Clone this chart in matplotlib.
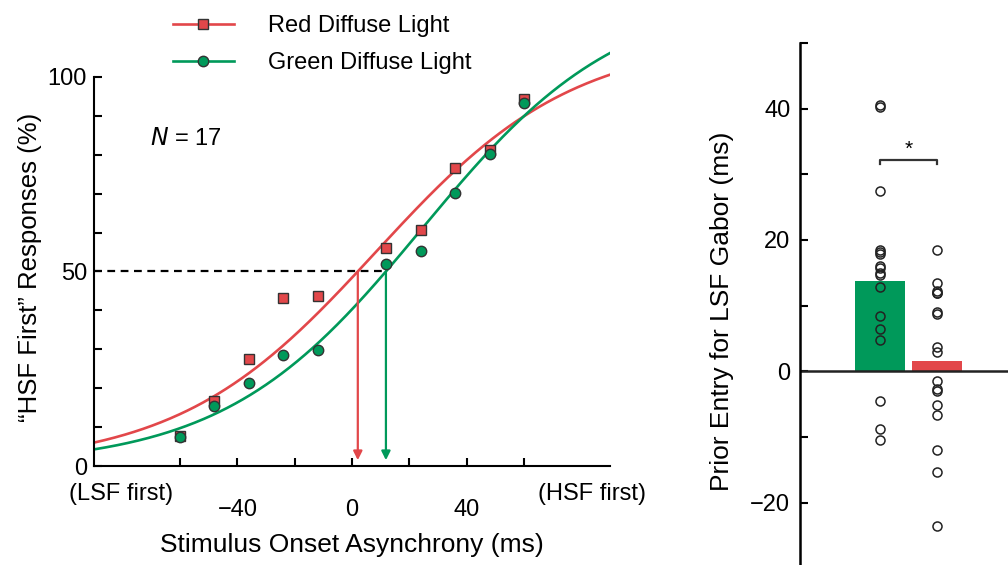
import numpy as np
import matplotlib
matplotlib.use("Agg")
import matplotlib.pyplot as plt
from matplotlib.ticker import MultipleLocator, FixedLocator

plt.rcParams["font.family"] = ["Liberation Sans", "DejaVu Sans"]

RED = "#e2474a"
GREEN = "#00995a"

# ── psychometric data (left panel) ─────────────────────────────────────────
soa = [-60, -48, -36, -24, -12, 12, 24, 36, 48, 60]
red_pct = [7.7, 16.7, 27.5, 43.3, 43.6, 56.1, 60.7, 76.7, 81.1, 94.3]
green_pct = [7.4, 15.5, 21.3, 28.5, 29.9, 52.0, 55.3, 70.1, 80.2, 93.4]

# fitted logistic parameters: (upper asymptote, centre, scale)
red_fit = (110.0, 8.3, 34.5)
green_fit = (122.0, 24.4, 34.5)

# ── prior-entry data (right panel) ─────────────────────────────────────────
cond_labels = ["Green", "Red"]
bar_means = [13.7, 1.6]
green_subj = [40.5, 40.3, 27.4, 18.5, 18.1, 17.8, 16.1, 15.7, 15.0, 14.6,
              12.8, 8.4, 6.5, 4.7, -4.5, -8.8, -10.4]
red_subj = [18.4, 13.5, 12.3, 12.0, 11.9, 9.1, 8.7, 3.7, 3.0, -1.4, -2.7,
            -3.0, -5.1, -6.7, -11.9, -15.4, -23.5]


def logistic(x, p):
    top, c, s = p
    return top / (1.0 + np.exp(-(x - c) / s))


def pse(p):
    top, c, s = p
    return c - s * np.log(top / 50.0 - 1.0)


fig = plt.figure(figsize=(10.08, 5.65), dpi=100)

# ── Left: psychometric functions ──────────────────────────────────────────
ax = fig.add_axes([0.0933, 0.1752, 0.5119, 0.7575])
xs = np.linspace(-90, 90, 400)
for p, pts, col, mk in [(red_fit, red_pct, RED, "s"),
                        (green_fit, green_pct, GREEN, "o")]:
    ax.plot(xs, logistic(xs, p), color=col, lw=1.9, zorder=2)
    ax.plot(soa, pts, ls="none", marker=mk, ms=7.5, mfc=col, mec="#333333",
            mew=1.0, zorder=3)

# legend handles (line + marker)
h_red, = ax.plot([], [], color=RED, lw=1.9, marker="s", ms=7.5, mfc=RED, mec="#333333")
h_green, = ax.plot([], [], color=GREEN, lw=1.9, marker="o", ms=7.5, mfc=GREEN, mec="#333333")
fig.legend([h_red, h_green], ["Red Diffuse Light", "Green Diffuse Light"],
           loc="upper left", bbox_to_anchor=(0.1597, 0.994), frameon=False,
           borderpad=0, fontsize=17, handlelength=2.6, handletextpad=1.45,
           labelspacing=0.62)

x_r, x_g = pse(red_fit), pse(green_fit)
ax.plot([-90, x_g], [50, 50], color="black", ls=(0, (3.5, 2.5)), lw=1.6, zorder=1)
for xv, col in [(x_r, RED), (x_g, GREEN)]:
    ax.annotate("", xy=(xv, 1.5), xytext=(xv, 50),
                arrowprops=dict(arrowstyle="-|>", color=col, lw=1.6,
                                mutation_scale=13, shrinkA=0, shrinkB=0))

ax.text(-70.5, 84, "$\\it{N}$ = 17", fontsize=17, va="center")

ax.set_xlim(-90, 90)
ax.set_ylim(0, 110)
for s in ["top", "right"]:
    ax.spines[s].set_visible(False)
ax.spines["left"].set_bounds(0, 100)
for s in ["left", "bottom"]:
    ax.spines[s].set_linewidth(1.5)
ax.yaxis.set_major_locator(FixedLocator([0, 50, 100]))
ax.yaxis.set_minor_locator(FixedLocator([10, 20, 30, 40, 60, 70, 80, 90]))
ax.xaxis.set_major_locator(FixedLocator([-40, 0, 40]))
ax.xaxis.set_minor_locator(FixedLocator([-60, -20, 20, 60]))
ax.tick_params(which="both", direction="in", width=1.5, length=6, labelsize=17)
ax.tick_params(axis="x", pad=24)
ax.tick_params(axis="y", pad=5)
ax.set_xlabel("Stimulus Onset Asynchrony (ms)", fontsize=19)
ax.xaxis.label.set_va("center")
ax.xaxis.set_label_coords(0.5, -0.185)
ax.set_ylabel("\u201cHSF First\u201d Responses (%)", fontsize=18.5)
ax.yaxis.label.set_va("center")
ax.yaxis.set_label_coords(-0.124, 0.465)
ax.text(-80.7, -7.2, "(LSF first)", fontsize=17, ha="center", va="center")
ax.text(83.6, -7.2, "(HSF first)", fontsize=17, ha="center", va="center",
        clip_on=False)

# ── Right: prior-entry bars ────────────────────────────────────────────────
bx = fig.add_axes([0.7937, -0.006, 0.2063, 0.930])
pos = [0, 1]
bx.bar(pos, bar_means, width=0.885, color=[GREEN, RED], zorder=1)
bx.axhline(0, color="#222222", lw=1.8, zorder=2)
for x0, vals in zip(pos, [green_subj, red_subj]):
    bx.plot([x0] * len(vals), vals, ls="none", marker="o", ms=6.5, mfc="none",
            mec="#222222", mew=1.1, zorder=3)

# significance bracket
bx.plot([0, 0, 1, 1], [31.5, 32.2, 32.2, 31.5], color="#333333", lw=1.6)
bx.text(0.5, 32.4, "*", ha="center", va="bottom", fontsize=15)

bx.set_xlim(-1.42, 2.26)
bx.set_ylim(-30, 50)
for s in ["top", "right", "bottom"]:
    bx.spines[s].set_visible(False)
bx.spines["left"].set_linewidth(1.8)
bx.set_xticks([])
bx.yaxis.set_major_locator(MultipleLocator(20))
bx.yaxis.set_minor_locator(MultipleLocator(10))
bx.tick_params(which="both", direction="in", width=1.5, length=6, labelsize=17,
               pad=7)
bx.set_ylabel("Prior Entry for LSF Gabor (ms)", fontsize=19)
bx.yaxis.label.set_va("center")
bx.yaxis.set_label_coords(-0.375, 0.49)

fig.savefig("out.png", dpi=100)
